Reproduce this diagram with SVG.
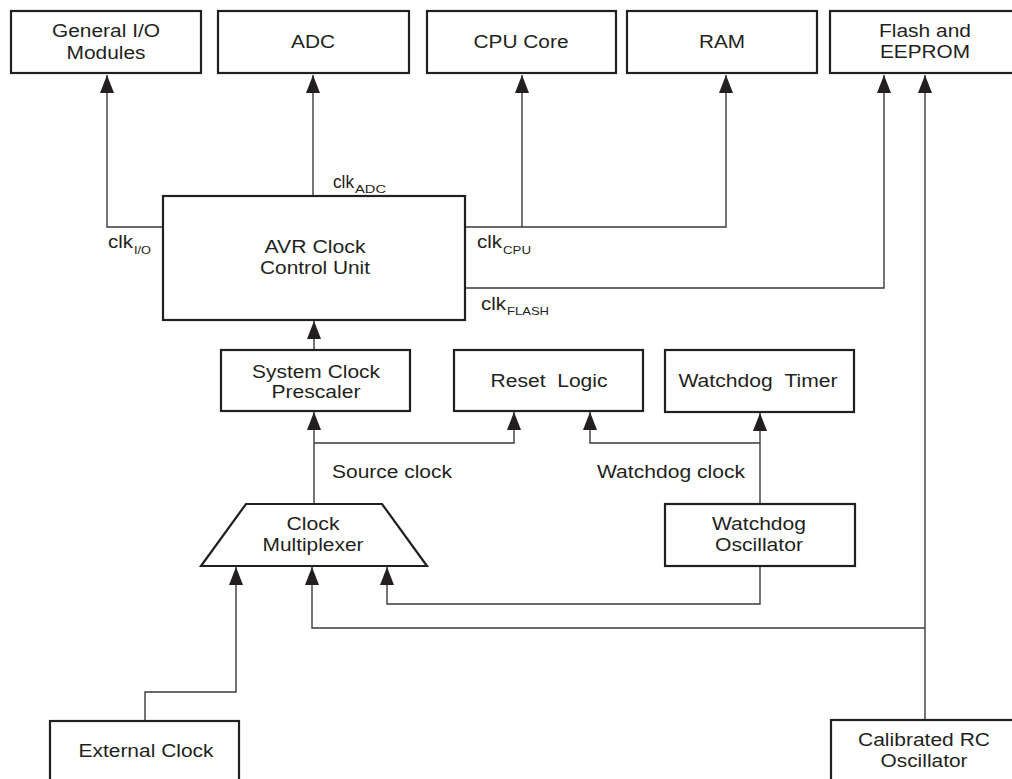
<svg xmlns="http://www.w3.org/2000/svg" width="1012" height="779" viewBox="0 0 1012 779">
<style>
.box{fill:#fff;stroke:#231f20;stroke-width:2.2}
.ln{fill:none;stroke:#3a3a3a;stroke-width:1.4}
.t{font-family:"Liberation Sans",Arial,sans-serif;font-size:17.5px;fill:#231f20;text-anchor:middle}
.l{font-family:"Liberation Sans",Arial,sans-serif;font-size:17.5px;fill:#231f20}
.s{font-family:"Liberation Sans",Arial,sans-serif;font-size:11px;fill:#231f20}
</style>
<defs>
<marker id="ah" markerUnits="userSpaceOnUse" markerWidth="18" markerHeight="14" refX="18" refY="7" orient="auto">
<path d="M0,0 L18,7 L0,14 z" fill="#231f20"/>
</marker>
</defs>
<rect width="1012" height="779" fill="#fff"/>
<g id="connectors">
<path class="ln" d="M163,227 H107 V75" marker-end="url(#ah)"/>
<path class="ln" d="M313,196 V75" marker-end="url(#ah)"/>
<path class="ln" d="M465,227 H726 V75" marker-end="url(#ah)"/>
<path class="ln" d="M522,227 V75" marker-end="url(#ah)"/>
<path class="ln" d="M465,288 H884 V75" marker-end="url(#ah)"/>
<path class="ln" d="M925,720 V75" marker-end="url(#ah)"/>
<path class="ln" d="M314,350 V321" marker-end="url(#ah)"/>
<path class="ln" d="M314,504 V412" marker-end="url(#ah)"/>
<path class="ln" d="M314,443 H514 V412" marker-end="url(#ah)"/>
<path class="ln" d="M760,504 V413" marker-end="url(#ah)"/>
<path class="ln" d="M760,443 H590 V412" marker-end="url(#ah)"/>
<path class="ln" d="M760,566 V604 H387 V567" marker-end="url(#ah)"/>
<path class="ln" d="M925,628 H312 V567" marker-end="url(#ah)"/>
<path class="ln" d="M145,721 V692 H236 V567" marker-end="url(#ah)"/>
<text class="l" x="333" y="188" textLength="21" lengthAdjust="spacingAndGlyphs">clk</text>
<text class="s" x="355" y="193" textLength="31" lengthAdjust="spacingAndGlyphs">ADC</text>
<text class="l" x="108" y="248" textLength="25" lengthAdjust="spacingAndGlyphs">clk</text>
<text class="s" x="134" y="254" textLength="17" lengthAdjust="spacingAndGlyphs">I/O</text>
<text class="l" x="477" y="248" textLength="25" lengthAdjust="spacingAndGlyphs">clk</text>
<text class="s" x="503" y="254" textLength="28" lengthAdjust="spacingAndGlyphs">CPU</text>
<text class="l" x="481" y="310" textLength="25" lengthAdjust="spacingAndGlyphs">clk</text>
<text class="s" x="507" y="315" textLength="42" lengthAdjust="spacingAndGlyphs">FLASH</text>
<text class="l" x="332" y="478" textLength="120" lengthAdjust="spacingAndGlyphs">Source clock</text>
<text class="l" x="597" y="478" textLength="148" lengthAdjust="spacingAndGlyphs">Watchdog clock</text>
</g>
<g id="gio">
<rect class="box" x="11" y="11" width="190" height="62"/>
<text class="t" x="106" y="37" textLength="108" lengthAdjust="spacingAndGlyphs">General I/O</text>
<text class="t" x="106" y="58.5" textLength="79" lengthAdjust="spacingAndGlyphs">Modules</text>
</g>
<g id="adc">
<rect class="box" x="218" y="11" width="191" height="62"/>
<text class="t" x="313" y="48" textLength="44" lengthAdjust="spacingAndGlyphs">ADC</text>
</g>
<g id="cpu">
<rect class="box" x="427" y="11" width="189" height="62"/>
<text class="t" x="521" y="48" textLength="95" lengthAdjust="spacingAndGlyphs">CPU Core</text>
</g>
<g id="ram">
<rect class="box" x="627" y="11" width="190" height="62"/>
<text class="t" x="722" y="48" textLength="46" lengthAdjust="spacingAndGlyphs">RAM</text>
</g>
<g id="flash">
<rect class="box" x="830" y="11" width="200" height="62"/>
<text class="t" x="925" y="37" textLength="92" lengthAdjust="spacingAndGlyphs">Flash and</text>
<text class="t" x="925" y="58" textLength="90" lengthAdjust="spacingAndGlyphs">EEPROM</text>
</g>
<g id="avr">
<rect class="box" x="163" y="196" width="302" height="124"/>
<text class="t" x="315" y="253" textLength="101" lengthAdjust="spacingAndGlyphs">AVR Clock</text>
<text class="t" x="315" y="274" textLength="110" lengthAdjust="spacingAndGlyphs">Control Unit</text>
</g>
<g id="prescaler">
<rect class="box" x="221" y="350" width="189" height="61"/>
<text class="t" x="316" y="378" textLength="128" lengthAdjust="spacingAndGlyphs">System Clock</text>
<text class="t" x="316" y="398" textLength="89" lengthAdjust="spacingAndGlyphs">Prescaler</text>
</g>
<g id="reset">
<rect class="box" x="454" y="350" width="189" height="61"/>
<text class="t" x="549" y="387" textLength="117" lengthAdjust="spacingAndGlyphs">Reset &#160;Logic</text>
</g>
<g id="wdt">
<rect class="box" x="665" y="350" width="189" height="62"/>
<text class="t" x="758" y="387" textLength="159" lengthAdjust="spacingAndGlyphs">Watchdog &#160;Timer</text>
</g>
<g id="mux">
<path class="box" d="M246,504 H382 L427,566 H201 Z"/>
<text class="t" x="313" y="530" textLength="53" lengthAdjust="spacingAndGlyphs">Clock</text>
<text class="t" x="313" y="551" textLength="101" lengthAdjust="spacingAndGlyphs">Multiplexer</text>
</g>
<g id="wdo">
<rect class="box" x="665" y="504" width="190" height="62"/>
<text class="t" x="759" y="530" textLength="94" lengthAdjust="spacingAndGlyphs">Watchdog</text>
<text class="t" x="759" y="551" textLength="88" lengthAdjust="spacingAndGlyphs">Oscillator</text>
</g>
<g id="ext">
<rect class="box" x="50" y="721" width="189" height="80"/>
<text class="t" x="146" y="757" textLength="135" lengthAdjust="spacingAndGlyphs">External Clock</text>
</g>
<g id="rc">
<rect class="box" x="831" y="720" width="200" height="80"/>
<text class="t" x="924" y="746" textLength="132" lengthAdjust="spacingAndGlyphs">Calibrated RC</text>
<text class="t" x="924" y="767" textLength="87" lengthAdjust="spacingAndGlyphs">Oscillator</text>
</g>
</svg>
